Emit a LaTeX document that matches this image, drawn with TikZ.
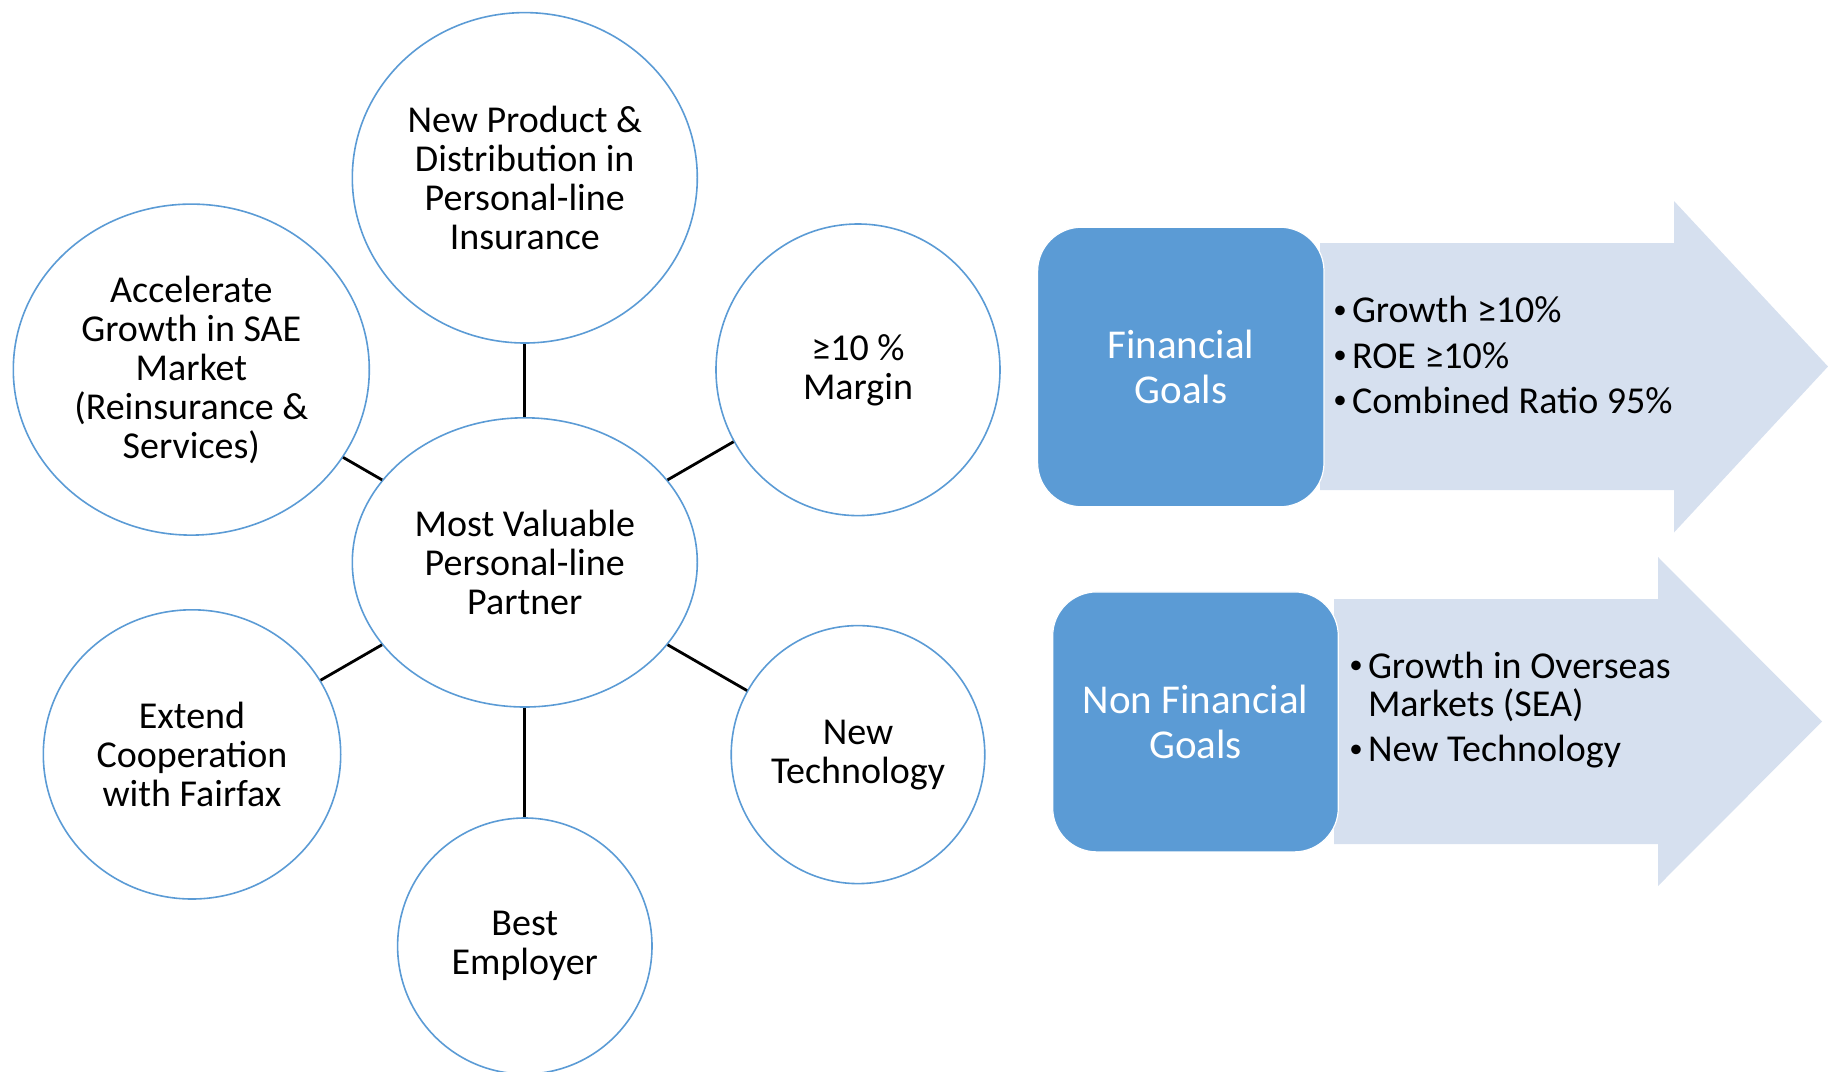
\documentclass[tikz,border=0pt]{standalone}
\usepackage{fontspec}
\setmainfont{Carlito}
\usepackage{xcolor}
\usepackage{tikz}
\usetikzlibrary{shapes.geometric}
\definecolor{ringblue}{RGB}{91,155,213}
\definecolor{goalblue}{RGB}{91,155,213}
\definecolor{arrowpale}{RGB}{214,224,239}
\newcommand{\itm}{\makebox[9.3pt][l]{\raisebox{2.3pt}{\fontsize{13.5pt}{13.5pt}\selectfont\textbullet}}}

\begin{document}
\begin{tikzpicture}[x=0.5pt, y=-0.5pt, every node/.style={font=\fontsize{19pt}{19.5pt}\selectfont},
  ring/.style={draw=ringblue, line width=0.8pt, ellipse, inner sep=0pt, align=center},
  link/.style={line width=1.4pt},
  goal/.style={fill=goalblue, draw=white, line width=0.6pt, rounded corners=22pt, text=white, align=center,
    inner sep=0pt, font=\fontsize{20.5pt}{22.3pt}\selectfont},
  item/.style={anchor=base west, inner sep=0pt},
  band/.style={fill=arrowpale}]
\useasboundingbox (0,0) rectangle (1828,1072);
% hub and the six goals around it
\node[ring, minimum width=172.5pt, minimum height=144.6pt] (hub) at (524.8,562.4) {Most Valuable\\Personal-line\\Partner};
\node[ring, minimum width=172.5pt, minimum height=165.2pt] (prod) at (524.8,177.8) {New Product \&\\Distribution in\\Personal-line\\Insurance};
\node[ring, minimum width=178pt, minimum height=165.5pt] (sae) at (191.3,369.6) {Accelerate\\Growth in SAE\\Market\\(Reinsurance \&\\Services)};
\node[ring, minimum width=142pt, minimum height=145.8pt] (margin) at (858,369.8) {≥10 \%\\Margin};
\node[ring, minimum width=148.7pt, minimum height=144.6pt] (fairfax) at (192,754.4) {Extend\\Cooperation\\with Fairfax};
\node[ring, minimum width=126.8pt, minimum height=129pt] (tech) at (858,754.6) {New\\Technology};
\node[ring, minimum width=127.2pt, minimum height=128pt] (employer) at (524.8,946) {Best\\Employer};
\draw[link] (hub) -- (prod); \draw[link] (hub) -- (sae); \draw[link] (hub) -- (margin);
\draw[link] (hub) -- (fairfax); \draw[link] (hub) -- (tech); \draw[link] (hub) -- (employer);
% financial goals
\fill[band] (1320,243) -- (1674,243) -- (1674,201) -- (1828,366.5) -- (1674,532.5) -- (1674,490) -- (1320,490) -- cycle;
\node[goal, minimum width=143.2pt, minimum height=139.8pt] (fin) at (1180.8,367) {Financial\\Goals};
\node[item] (fin1) at (1333,322.6) {\itm Growth ≥10\%};
\node[item] (fin2) at (1333,368) {\itm ROE ≥10\%};
\node[item] (fin3) at (1333,413) {\itm Combined Ratio 95\%};
% non financial goals
\fill[band] (1334,599) -- (1658,599) -- (1658,557) -- (1822,721.5) -- (1658,886) -- (1658,844) -- (1334,844) -- cycle;
\node[goal, minimum width=142.8pt, minimum height=130pt] (nonfin) at (1195.5,721.9) {Non Financial\\Goals};
\node[item] (nonfin1) at (1349,678) {\itm Growth in Overseas};
\node[item] (nonfin1b) at (1367.6,716.7) {Markets (SEA)};
\node[item] (nonfin2) at (1349,761.7) {\itm New Technology};
\end{tikzpicture}
\end{document}
